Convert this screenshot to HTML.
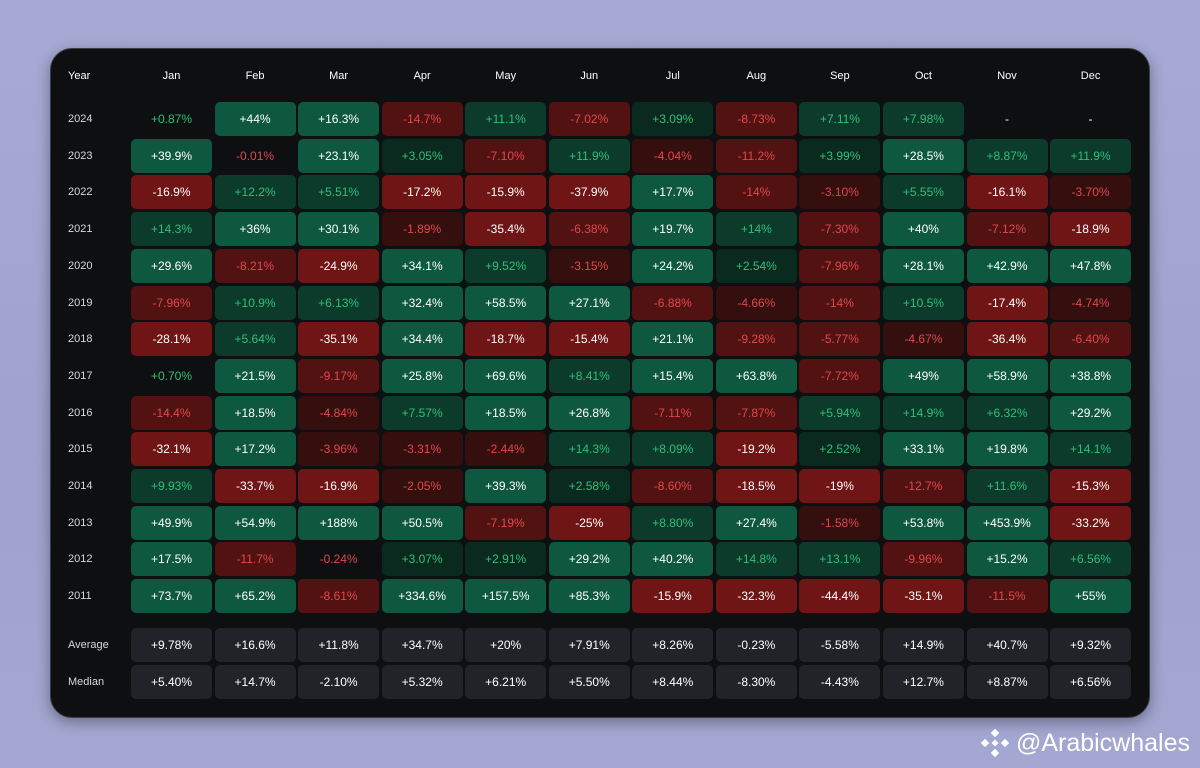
<!DOCTYPE html>
<html><head><meta charset="utf-8"><style>
html,body{margin:0;padding:0}
body{width:1200px;height:768px;background:linear-gradient(180deg,#a6aad4 0%,#9ea2cc 60%,#a3a7d1 100%);position:relative;overflow:hidden;font-family:"Liberation Sans","DejaVu Sans",sans-serif}
#card{position:absolute;left:50px;top:48px;width:1098px;height:668px;background:#0e0f11;border-radius:22px;border:1px solid #3a3c44;box-shadow:0 4px 14px rgba(0,0,0,.35)}
.c{position:absolute;width:81px;height:34px;border-radius:5px;display:flex;align-items:center;justify-content:center;font-size:12px;color:#fff}
.l{position:absolute;left:68px;font-size:11px;color:#d8d8dc;height:34px;display:flex;align-items:center}
.h{position:absolute;font-size:11px;color:#fff;width:81px;text-align:center;top:70px}
#wm{position:absolute;right:10px;top:728px;color:#fff;font-size:25px;display:flex;align-items:center;gap:6px}
</style></head><body>
<div id="card"></div>
<div id="g"></div>
<div id="wm"><svg width="30" height="30" viewBox="0 0 30 30"><g fill="#fff"><rect x="12" y="2" width="6" height="6" transform="rotate(45 15 5)"/><rect x="12" y="22" width="6" height="6" transform="rotate(45 15 25)"/><rect x="2" y="12" width="6" height="6" transform="rotate(45 5 15)"/><rect x="22" y="12" width="6" height="6" transform="rotate(45 25 15)"/><rect x="12.5" y="12.5" width="5" height="5" transform="rotate(45 15 15)"/></g></svg>@Arabicwhales</div>
<script>
const M=["Jan","Feb","Mar","Apr","May","Jun","Jul","Aug","Sep","Oct","Nov","Dec"];
const D={
2024:["+0.87%","+44%","+16.3%","-14.7%","+11.1%","-7.02%","+3.09%","-8.73%","+7.11%","+7.98%","-","-"],
2023:["+39.9%","-0.01%","+23.1%","+3.05%","-7.10%","+11.9%","-4.04%","-11.2%","+3.99%","+28.5%","+8.87%","+11.9%"],
2022:["-16.9%","+12.2%","+5.51%","-17.2%","-15.9%","-37.9%","+17.7%","-14%","-3.10%","+5.55%","-16.1%","-3.70%"],
2021:["+14.3%","+36%","+30.1%","-1.89%","-35.4%","-6.38%","+19.7%","+14%","-7.30%","+40%","-7.12%","-18.9%"],
2020:["+29.6%","-8.21%","-24.9%","+34.1%","+9.52%","-3.15%","+24.2%","+2.54%","-7.96%","+28.1%","+42.9%","+47.8%"],
2019:["-7.96%","+10.9%","+6.13%","+32.4%","+58.5%","+27.1%","-6.88%","-4.66%","-14%","+10.5%","-17.4%","-4.74%"],
2018:["-28.1%","+5.64%","-35.1%","+34.4%","-18.7%","-15.4%","+21.1%","-9.28%","-5.77%","-4.67%","-36.4%","-6.40%"],
2017:["+0.70%","+21.5%","-9.17%","+25.8%","+69.6%","+8.41%","+15.4%","+63.8%","-7.72%","+49%","+58.9%","+38.8%"],
2016:["-14.4%","+18.5%","-4.84%","+7.57%","+18.5%","+26.8%","-7.11%","-7.87%","+5.94%","+14.9%","+6.32%","+29.2%"],
2015:["-32.1%","+17.2%","-3.96%","-3.31%","-2.44%","+14.3%","+8.09%","-19.2%","+2.52%","+33.1%","+19.8%","+14.1%"],
2014:["+9.93%","-33.7%","-16.9%","-2.05%","+39.3%","+2.58%","-8.60%","-18.5%","-19%","-12.7%","+11.6%","-15.3%"],
2013:["+49.9%","+54.9%","+188%","+50.5%","-7.19%","-25%","+8.80%","+27.4%","-1.58%","+53.8%","+453.9%","-33.2%"],
2012:["+17.5%","-11.7%","-0.24%","+3.07%","+2.91%","+29.2%","+40.2%","+14.8%","+13.1%","-9.96%","+15.2%","+6.56%"],
2011:["+73.7%","+65.2%","-8.61%","+334.6%","+157.5%","+85.3%","-15.9%","-32.3%","-44.4%","-35.1%","-11.5%","+55%"]};
const A=["+9.78%","+16.6%","+11.8%","+34.7%","+20%","+7.91%","+8.26%","-0.23%","-5.58%","+14.9%","+40.7%","+9.32%"];
const Md=["+5.40%","+14.7%","-2.10%","+5.32%","+6.21%","+5.50%","+8.44%","-8.30%","-4.43%","+12.7%","+8.87%","+6.56%"];
let h="";const X=i=>131+i*83.55;
M.forEach((m,i)=>h+=`<div class="h" style="left:${X(i)}px">${m}</div>`);
h+=`<div class="h" style="left:68px;width:auto;text-align:left">Year</div>`;
const ys=Object.keys(D).sort((a,b)=>b-a);
ys.forEach((y,r)=>{const top=102+r*36.7;h+=`<div class="l" style="top:${top}px">${y}</div>`;
D[y].forEach((v,i)=>{let bg="transparent",col="#fff";
if(v!="-"){const n=parseFloat(v),a=Math.abs(n),pos=n>=0;
if(a<1){col=pos?"#2fbf7a":"#e0474c"}
else if(a<5){bg=pos?"#0b2a1f":"#350e0e";col=pos?"#2fbf7a":"#e0474c"}
else if(a<15){bg=pos?"#0c3a2b":"#521212";col=pos?"#2fbf7a":"#e0474c"}
else{bg=pos?"#0e5840":"#701515";col="#fff"}}
h+=`<div class="c" style="left:${X(i)}px;top:${top}px;background:${bg};color:${col}">${v}</div>`})});
[[A,"Average",628],[Md,"Median",665]].forEach(([arr,n,top])=>{h+=`<div class="l" style="top:${top}px">${n}</div>`;
arr.forEach((v,i)=>h+=`<div class="c" style="left:${X(i)}px;top:${top}px;background:#212329">${v}</div>`)});
document.getElementById("g").innerHTML=h;
</script></body></html>
